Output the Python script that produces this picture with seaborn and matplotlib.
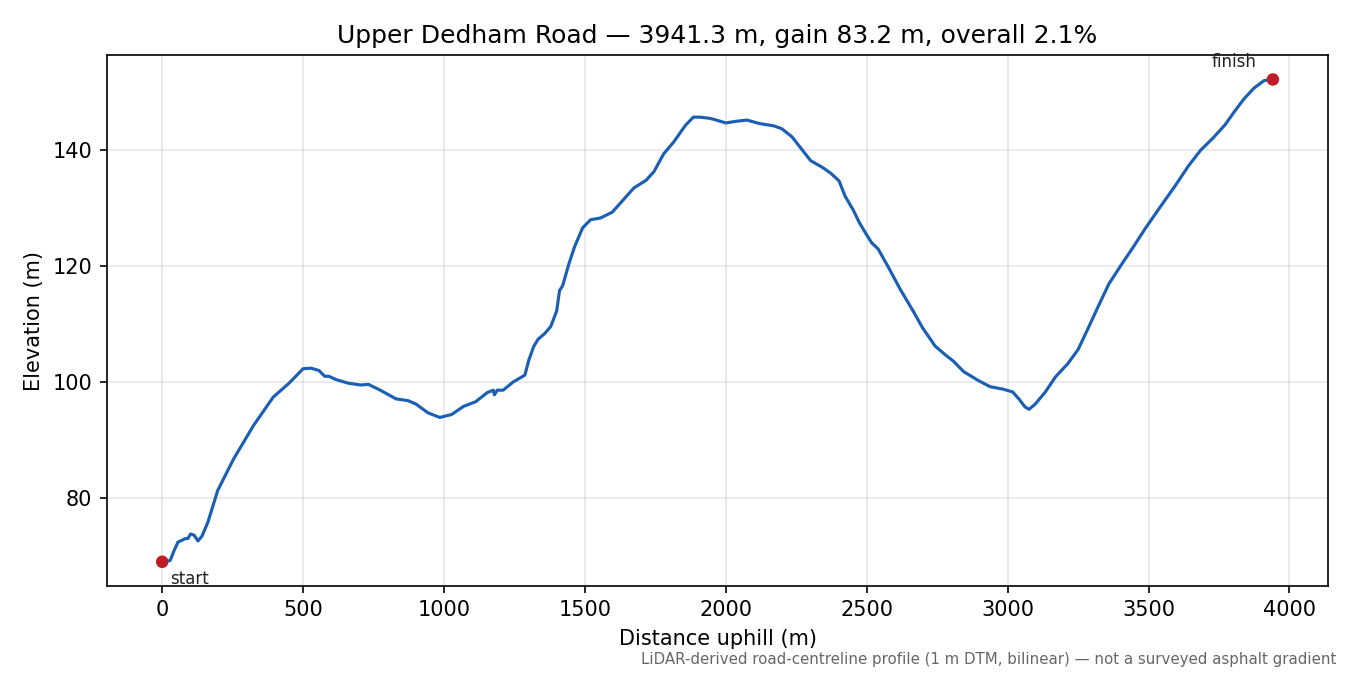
import matplotlib
matplotlib.use("Agg")
import matplotlib.pyplot as plt
import seaborn as sns
import pandas as pd

# Elevation profile
distance_m = [0, 28, 42, 56, 70, 82, 91, 101, 113, 127, 141, 162, 197, 253, 324, 394,
              450, 500, 528, 556, 577, 591, 619, 661, 704, 732, 774, 830, 872, 901,
              943, 985, 1027, 1069, 1112, 1154, 1175, 1179, 1189, 1210, 1245, 1287,
              1301, 1319, 1334, 1358, 1379, 1400, 1410, 1421, 1442, 1463, 1492, 1520,
              1555, 1597, 1632, 1674, 1717, 1745, 1780, 1815, 1857, 1885, 1909, 1942,
              1959, 2000, 2039, 2075, 2119, 2170, 2199, 2235, 2272, 2301, 2344, 2373,
              2402, 2423, 2452, 2474, 2496, 2518, 2540, 2576, 2619, 2663, 2699, 2743,
              2779, 2808, 2844, 2895, 2938, 2982, 3018, 3040, 3062, 3076, 3098, 3134,
              3170, 3214, 3250, 3286, 3323, 3359, 3403, 3446, 3490, 3540, 3591, 3642,
              3685, 3729, 3772, 3801, 3838, 3874, 3910, 3941.3]
elevation_m = [69.0, 69.2, 70.9, 72.4, 72.7, 73.0, 73.0, 73.8, 73.6, 72.6, 73.4, 75.8,
               81.3, 86.7, 92.5, 97.4, 99.8, 102.3, 102.4, 102.0, 101.0, 101.0, 100.4,
               99.8, 99.5, 99.6, 98.6, 97.1, 96.8, 96.2, 94.7, 93.9, 94.4, 95.8, 96.6,
               98.2, 98.6, 97.8, 98.6, 98.6, 100.0, 101.2, 103.8, 106.2, 107.4, 108.4,
               109.6, 112.3, 115.8, 116.6, 120.2, 123.3, 126.6, 128.0, 128.3, 129.3,
               131.2, 133.5, 134.8, 136.3, 139.4, 141.4, 144.3, 145.7, 145.7, 145.5,
               145.3, 144.7, 145.0, 145.2, 144.6, 144.2, 143.7, 142.3, 140.0, 138.2,
               137.0, 136.0, 134.7, 132.1, 129.7, 127.5, 125.7, 124.0, 123.0, 119.9,
               116.0, 112.4, 109.3, 106.2, 104.7, 103.6, 101.8, 100.3, 99.2, 98.8, 98.3,
               97.1, 95.7, 95.3, 96.2, 98.3, 100.9, 103.2, 105.6, 109.3, 113.2, 116.9,
               120.2, 123.3, 126.6, 130.1, 133.6, 137.3, 140.0, 142.1, 144.4, 146.4,
               148.8, 150.7, 152.0, 152.2]

road_name = "Upper Dedham Road"
endpoint_labels = ["start", "finish"]
footnote = "LiDAR-derived road-centreline profile (1 m DTM, bilinear) \u2014 not a surveyed asphalt gradient"

LINE_COLOR = "#1a5fb4"
POINT_COLOR = "#c01c28"

profile = pd.DataFrame({"distance": distance_m, "elevation": elevation_m})
total = distance_m[-1]
gain = elevation_m[-1] - elevation_m[0]

sns.set_style("ticks", {"text.color": "black", "axes.labelcolor": "black",
                        "xtick.color": "black", "ytick.color": "black",
                        "axes.edgecolor": "black"})
plt.rcParams["font.family"] = ["DejaVu Sans"]

fig, ax = plt.subplots(figsize=(9, 4.5), dpi=150)
fig.subplots_adjust(left=0.079, right=0.984, top=0.918, bottom=0.132)

sns.lineplot(data=profile, x="distance", y="elevation", color=LINE_COLOR,
             linewidth=1.5, ax=ax)

ends = profile.iloc[[0, -1]]
sns.scatterplot(data=ends, x="distance", y="elevation", color=POINT_COLOR,
                s=36, edgecolor="none", zorder=5, ax=ax)

ax.annotate(endpoint_labels[0], (ends.distance.iloc[0], ends.elevation.iloc[0]),
            xytext=(4, -4), textcoords="offset points", ha="left", va="top",
            fontsize=8, color="#222222")
ax.annotate(endpoint_labels[1], (ends.distance.iloc[1], ends.elevation.iloc[1]),
            xytext=(-8, 4), textcoords="offset points", ha="right", va="bottom",
            fontsize=8, color="#222222")

ax.grid(True, color="#b0b0b0", linewidth=0.8, alpha=0.3)
ax.set_axisbelow(True)
ax.set_xlabel("Distance uphill (m)")
ax.set_ylabel("Elevation (m)")
ax.set_title(f"{road_name} \u2014 {total:.1f} m, gain {gain:.1f} m, overall {gain / total * 100:.1f}%")

fig.text(0.99, 0.012, footnote, ha="right", va="bottom", fontsize=7.2, color="#666666")

fig.savefig("out.png", dpi=150)
